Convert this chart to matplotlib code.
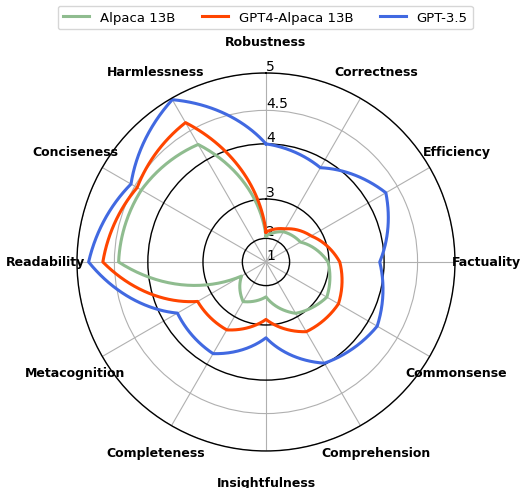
import numpy as np
import matplotlib
matplotlib.use("Agg")
import matplotlib.pyplot as plt

# categories, clockwise starting from the top
categories = ['Robustness', 'Correctness', 'Efficiency', 'Factuality',
              'Commonsense', 'Comprehension', 'Insightfulness', 'Completeness',
              'Metacognition', 'Readability', 'Conciseness', 'Harmlessness']

alpaca_13b = [2.07, 2.33, 2.46, 2.98, 3.15, 2.92, 2.33, 2.61, 2.14, 4.44, 4.39, 4.27]
gpt4_alpaca_13b = [2.19, 2.42, 2.76, 3.22, 3.41, 3.35, 2.88, 3.31, 3.32, 4.66, 4.46, 4.63]
gpt35 = [4.0, 3.85, 4.31, 3.93, 4.16, 3.98, 3.26, 3.80, 3.74, 4.85, 4.56, 4.98]

series_names = ['Alpaca 13B', 'GPT4-Alpaca 13B', 'GPT-3.5']
series_colors = ['darkseagreen', 'orangered', 'royalblue']

r_ticks = [1, 2, 3, 4, 4.5, 5]
r_tick_labels = ['1', '2', '3', '4', '4.5', '5']

fig = plt.figure(figsize=(5.2, 4.89), dpi=100)
ax = fig.add_axes([0.148, 0.0757, 0.727, 0.773], projection='polar')
ax.set_theta_zero_location('N')
ax.set_theta_direction(-1)

angles = np.linspace(0, 2 * np.pi, len(categories), endpoint=False)
closed_angles = np.append(angles, 2 * np.pi)

# radial axis is squared, lower limit at 1
for vals, name, color in zip([alpaca_13b, gpt4_alpaca_13b, gpt35], series_names, series_colors):
    v = np.array(vals + vals[:1]) ** 2
    line, = ax.plot(closed_angles, v, color=color, linewidth=2.2, label=name)
    # let the polar transform draw segments as curves (straight in theta/r)
    line.get_path()._interpolation_steps = 60

ax.set_ylim(1, 25)
ax.set_yticks(np.array(r_ticks) ** 2)
ax.set_yticklabels(r_tick_labels, fontsize=10)
ax.set_rlabel_position(0)
ax.set_xticks(angles)
ax.set_xticklabels([''] * len(categories))
ax.grid(True, color='#b0b0b0', linewidth=0.8)

# solid black rings at 2, 3 and 4
for tick in ax.yaxis.get_major_ticks()[1:4]:
    tick.gridline.set_color('black')
    tick.gridline.set_linewidth(1.0)
ax.spines['polar'].set_color('black')
ax.spines['polar'].set_linewidth(1.0)

for ang, name in zip(angles, categories):
    ax.text(ang, 1 + 24 * 1.165, name, ha='center', va='center',
            fontsize=9, fontweight='bold')

fig.legend(loc='upper center', ncol=3, bbox_to_anchor=(0.51, 1.0), fontsize=9.5)

fig.savefig('out.png', dpi=100)
